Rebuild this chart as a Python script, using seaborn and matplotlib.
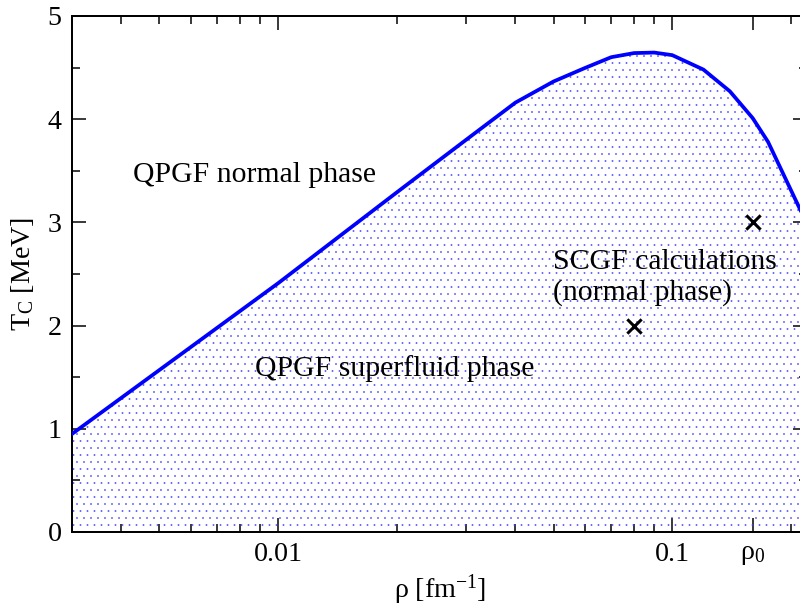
import matplotlib
matplotlib.use("Agg")
import matplotlib.pyplot as plt
import seaborn as sns
import numpy as np
from matplotlib.ticker import FixedLocator, NullFormatter

# ---- data ----
rho = [0.003, 0.01, 0.02, 0.03, 0.04, 0.05, 0.06, 0.07, 0.08, 0.09,
       0.1, 0.12, 0.14, 0.16, 0.175, 0.22]
tc = [0.95, 2.41, 3.29, 3.80, 4.16, 4.365, 4.495, 4.60, 4.64, 4.645,
      4.62, 4.48, 4.27, 4.01, 3.78, 2.98]

scgf_rho = [0.08, 0.16]
scgf_tc = [2.0, 3.0]

xticks = [0.01, 0.1, 0.16]
xticklabels = ["0.01", "0.1", r"$\mathregular{\rho_0}$"]
xminor = [0.003, 0.004, 0.005, 0.006, 0.007, 0.008, 0.009,
          0.02, 0.03, 0.04, 0.05, 0.06, 0.07, 0.08, 0.09, 0.2]
yticks = [0, 1, 2, 3, 4, 5]
yminor = [0.5, 1.5, 2.5, 3.5, 4.5]

sns.set_style("ticks")
plt.rcParams["font.family"] = ["Liberation Serif", "DejaVu Serif"]
plt.rcParams["mathtext.fontset"] = "custom"
plt.rcParams["mathtext.rm"] = "Liberation Serif"
plt.rcParams["mathtext.it"] = "Liberation Serif:italic"
plt.rcParams["hatch.linewidth"] = 0.25
plt.rcParams["text.color"] = "black"
plt.rcParams["axes.labelcolor"] = "black"
plt.rcParams["xtick.color"] = "black"
plt.rcParams["ytick.color"] = "black"

DPI = 84
fig = plt.figure(figsize=(800 / DPI, 610 / DPI), dpi=DPI)
ax = fig.add_axes([0.09, 0.1279, 0.919, 0.846])

ax.set_xscale("log")
ax.fill_between(rho, tc, 0, facecolor="none", edgecolor="#3a3aff",
                hatch="..", linewidth=0, zorder=1)
sns.lineplot(x=rho, y=tc, ax=ax, color="#0000ff", linewidth=3.2,
             sort=False, zorder=3)
sns.scatterplot(x=scgf_rho, y=scgf_tc, ax=ax, marker="x", s=150,
                color="black", linewidth=2.6, zorder=4)

ax.set_xlim(0.003, 0.22)
ax.set_ylim(0, 5)

ax.xaxis.set_major_locator(FixedLocator(xticks))
ax.set_xticklabels(xticklabels)
ax.xaxis.set_minor_locator(FixedLocator(xminor))
ax.xaxis.set_minor_formatter(NullFormatter())
ax.yaxis.set_major_locator(FixedLocator(yticks))
ax.yaxis.set_minor_locator(FixedLocator(yminor))

ax.tick_params(which="both", direction="in", top=True, right=True,
               labelsize=24, width=1.3, colors="black")
ax.tick_params(which="major", length=12, pad=9)
ax.tick_params(which="minor", length=6.5)
for s in ax.spines.values():
    s.set_linewidth(1.7)
    s.set_color("black")

ax.set_xlabel(r"$\mathregular{\rho\ [fm^{-1}]}$", fontsize=24, labelpad=4)
ax.set_ylabel(r"$\mathregular{T_C\ [MeV]}$", fontsize=24, labelpad=10)

ax.text(0.00428, 3.46, "QPGF normal phase", fontsize=25.5, va="center", ha="left")
ax.text(0.00874, 1.58, "QPGF superfluid phase", fontsize=25.5, va="center", ha="left")
ax.text(0.0499, 2.47, "SCGF calculations\n(normal phase)", fontsize=25.5,
        va="center", ha="left", linespacing=1.2)

fig.savefig("out.png", dpi=DPI)
